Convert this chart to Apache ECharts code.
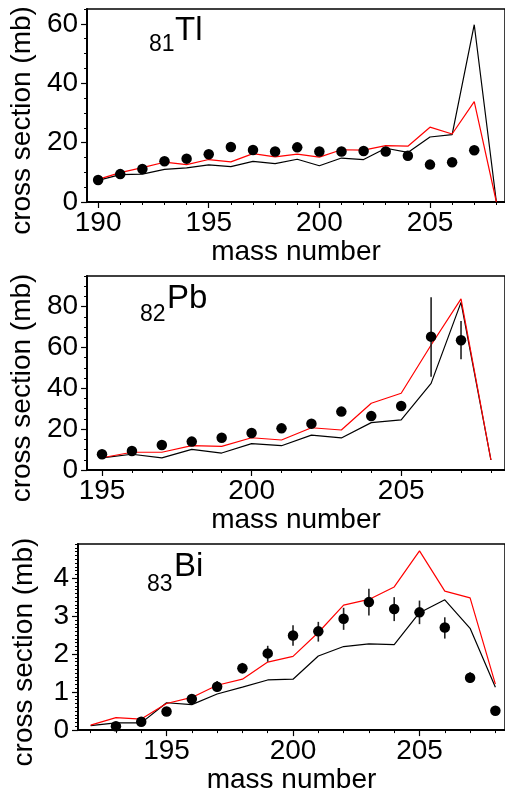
<!DOCTYPE html>
<html>
<head>
<meta charset="utf-8">
<script src="https://cdn.jsdelivr.net/npm/echarts@6/dist/echarts.min.js"></script>
<style>
html,body{margin:0;padding:0;background:#fff;overflow:hidden;}
#chart{width:505px;height:795px;}
</style>
</head>
<body>
<div id="chart"></div>
<script>
// ---------- Tl panel ----------
const tlMass = [190,191,192,193,194,195,196,197,198,199,200,201,202,203,204,205,206,207,208];
const tlBlack = [7.3,9.2,9.4,11.0,11.5,12.5,11.9,13.7,12.9,14.4,12.2,14.8,14.3,18.1,16.7,21.9,22.7,59.7,0];
const tlRed = [7.6,9.9,11.6,13.4,12.6,14.3,13.5,16.3,15.2,16.1,15.1,17.6,17.5,19.0,18.8,25.2,22.9,33.8,0];
const tlExpMass = [190,191,192,193,194,195,196,197,198,199,200,201,202,203,204,205,206,207];
const tlExp = [7.4,9.4,11.1,13.7,14.6,16.1,18.5,17.5,17.0,18.4,17.0,17.0,17.2,17.0,15.6,12.6,13.4,17.4];
const tlXLabels = [190,195,200,205];
const tlYLabels = [0,20,40,60];

// ---------- Pb panel ----------
const pbMass = [195,196,197,198,199,200,201,202,203,204,205,206,207,208];
const pbBlack = [5.9,7.7,5.9,10.1,8.3,12.9,11.9,17.1,15.7,23.2,24.5,42.4,82.1,4.9];
const pbRed = [6.0,8.7,8.7,11.9,11.6,15.8,14.7,20.7,19.6,32.7,37.6,61.2,83.8,4.9];
const pbExpMass = [195,196,197,198,199,200,201,202,203,204,205,206,207];
const pbExp = [7.7,9.3,12.2,13.9,15.8,18.1,20.4,22.7,28.6,26.4,31.3,65.3,63.5];
const pbErrMass = [206,207];
const pbErrLow = [45.7,54.2];
const pbErrHigh = [84.6,73.0];
const pbXLabels = [195,200,205];
const pbYLabels = [0,20,40,60,80];

// ---------- Bi panel ----------
const biMass = [192,193,194,195,196,197,198,199,200,201,202,203,204,205,206,207,208];
const biBlack = [0.12,0.19,0.19,0.72,0.67,0.95,1.13,1.32,1.34,1.95,2.20,2.27,2.25,3.09,3.43,2.68,1.13];
const biRed = [0.13,0.33,0.29,0.70,0.86,1.18,1.34,1.79,1.94,2.57,3.29,3.44,3.77,4.72,3.66,3.48,1.21];
const biExpMass = [193,194,195,196,197,198,199,200,201,202,203,204,205,206,207,208];
const biExp = [0.10,0.22,0.49,0.82,1.14,1.63,2.02,2.49,2.60,2.93,3.37,3.19,3.10,2.70,1.38,0.51];
const biErrMass = [197,198,199,200,201,202,203,204,205,206,207];
const biErrLow = [1.00,1.49,1.80,2.22,2.33,2.64,3.02,2.87,2.79,2.41,1.24];
const biErrHigh = [1.29,1.77,2.22,2.76,2.85,3.22,3.72,3.50,3.41,2.97,1.52];
const biXLabels = [195,200,205];
const biYLabels = [0,1,2,3,4];

const FONT = 'Liberation Sans';
const AXFS = 28;

const panels = [
  {mass: tlMass, black: tlBlack, red: tlRed, expMass: tlExpMass, exp: tlExp, errMass: [], errLow: [], errHigh: [],
   xLabels: tlXLabels, yLabels: tlYLabels, xmin: 189.5, xmax: 208.39, ymax: 65, yMinor: 5,
   grid: {top: 9, height: 193}},
  {mass: pbMass, black: pbBlack, red: pbRed, expMass: pbExpMass, exp: pbExp, errMass: pbErrMass, errLow: pbErrLow, errHigh: pbErrHigh,
   xLabels: pbXLabels, yLabels: pbYLabels, xmin: 194.5, xmax: 208.47, ymax: 95, yMinor: 5,
   grid: {top: 276, height: 194}},
  {mass: biMass, black: biBlack, red: biRed, expMass: biExpMass, exp: biExp, errMass: biErrMass, errLow: biErrLow, errHigh: biErrHigh,
   xLabels: biXLabels, yLabels: biYLabels, xmin: 191.5, xmax: 208.38, ymax: 4.9, yMinor: 0.1,
   grid: {top: 544, height: 194}}
];

const grids = [], xAxes = [], yAxes = [], series = [];
panels.forEach((p, i) => {
  grids.push({left: 78, width: 428, top: p.grid.top, height: p.grid.height, show: true,
    borderColor: '#000', borderWidth: 1.5, backgroundColor: 'transparent'});
  xAxes.push({gridIndex: i, type: 'value', min: p.xmin, max: p.xmax, position: 'bottom',
    axisLine: {show: true, onZero: false, lineStyle: {color: '#000', width: 2}},
    axisTick: {show: true, customValues: p.xLabels, length: 6, lineStyle: {color: '#000', width: 1.2}},
    axisLabel: {show: true, customValues: p.xLabels, fontSize: AXFS, color: '#000', fontFamily: FONT, margin: 7},
    splitLine: {show: false},
    name: 'mass number', nameLocation: 'middle', nameGap: 33,
    nameTextStyle: {fontSize: AXFS, color: '#000', fontFamily: FONT}});
  xAxes.push({gridIndex: i, type: 'value', min: p.xmin, max: p.xmax, position: 'bottom',
    axisLine: {show: false, onZero: false},
    axisTick: {show: true, customValues: p.mass, length: 3, lineStyle: {color: '#000', width: 1}},
    axisLabel: {show: false}, splitLine: {show: false}});
  yAxes.push({gridIndex: i, type: 'value', min: 0, max: p.ymax, position: 'left',
    axisLine: {show: true, onZero: false, lineStyle: {color: '#000', width: 2}},
    axisTick: {show: true, customValues: p.yLabels, length: 6, lineStyle: {color: '#000', width: 1.2}},
    axisLabel: {show: true, customValues: p.yLabels, fontSize: AXFS, color: '#000', fontFamily: FONT, margin: 9},
    splitLine: {show: false},
    name: 'cross section (mb)', nameLocation: 'middle', nameGap: 40,
    nameTextStyle: {fontSize: AXFS, color: '#000', fontFamily: FONT, padding: [0, 30, 0, 0]}});
  yAxes.push({gridIndex: i, type: 'value', min: 0, max: p.ymax, interval: p.yMinor, position: 'left',
    axisLine: {show: false, onZero: false},
    axisTick: {show: true, length: 3, lineStyle: {color: '#000', width: 1}},
    axisLabel: {show: false}, splitLine: {show: false}});

  const xi = i * 2, yi = i * 2;
  series.push({type: 'line', xAxisIndex: xi, yAxisIndex: yi, symbol: 'none', silent: true,
    lineStyle: {color: '#000', width: 1.2}, data: p.mass.map((m, k) => [m, p.black[k]]), z: 2});
  series.push({type: 'line', xAxisIndex: xi, yAxisIndex: yi, symbol: 'none', silent: true,
    lineStyle: {color: '#ff0000', width: 1.2}, data: p.mass.map((m, k) => [m, p.red[k]]), z: 3});
  series.push({type: 'custom', xAxisIndex: xi, yAxisIndex: yi, silent: true, z: 4,
    data: p.errMass.map((m, k) => [m, p.errLow[k], p.errHigh[k]]),
    renderItem: function (params, api) {
      const a = api.coord([api.value(0), api.value(1)]);
      const b = api.coord([api.value(0), api.value(2)]);
      return {type: 'line', shape: {x1: a[0], y1: a[1], x2: b[0], y2: b[1]},
        style: {stroke: '#222', lineWidth: 1.6}};
    }});
  series.push({type: 'scatter', xAxisIndex: xi, yAxisIndex: yi, symbol: 'circle', symbolSize: 10.5, silent: true,
    itemStyle: {color: '#000', opacity: 1}, data: p.expMass.map((m, k) => [m, p.exp[k]]), z: 5});
});

const labels = [
  {sub: '81', el: 'Tl', subX: 149, subY: 45, elX: 175, elY: 31},
  {sub: '82', el: 'Pb', subX: 140, subY: 315, elX: 167, elY: 299},
  {sub: '83', el: 'Bi', subX: 147, subY: 585, elX: 174, elY: 567}
];
const graphic = [];
labels.forEach(l => {
  graphic.push({type: 'text', x: l.subX, y: l.subY, silent: true,
    style: {text: l.sub, fontSize: 23, fontFamily: FONT, fill: '#000', verticalAlign: 'middle', align: 'left'}});
  graphic.push({type: 'text', x: l.elX, y: l.elY, silent: true,
    style: {text: l.el, fontSize: 33, fontFamily: FONT, fill: '#000', verticalAlign: 'middle', align: 'left'}});
});

const chart = echarts.init(document.getElementById('chart'), null, {renderer: 'canvas'});
chart.setOption({
  animation: false,
  backgroundColor: '#fff',
  grid: grids,
  xAxis: xAxes,
  yAxis: yAxes,
  series: series,
  graphic: graphic
});
</script>
</body>
</html>
